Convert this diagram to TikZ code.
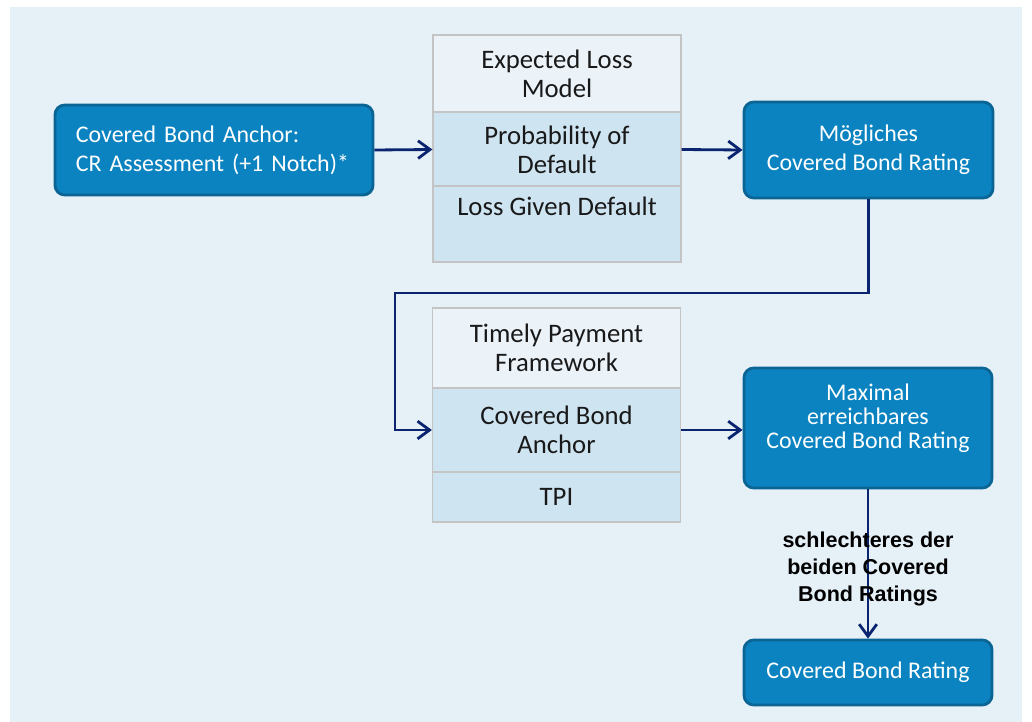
\documentclass[tikz,border=0pt]{standalone}
\usepackage{fontspec}
\setmainfont{Carlito}
\newfontfamily\labelfont{Liberation Sans}
\usetikzlibrary{arrows.meta}
\definecolor{panelbg}{HTML}{E6F0F7}
\definecolor{boxfill}{HTML}{0A83C0}
\definecolor{boxline}{HTML}{0A6494}
\definecolor{cellgray}{HTML}{C4C4C4}
\definecolor{celltop}{HTML}{EBF3F9}
\definecolor{cellblue}{HTML}{CEE4F1}
\definecolor{flowline}{HTML}{0A2470}
\begin{document}
\begin{tikzpicture}[x=0.025cm,y=-0.025cm,
    font=\fontsize{17}{20.6}\selectfont,
    rating/.style={draw=boxline,line width=2pt,fill=boxfill,rounded corners=7pt,text=white,align=center,minimum width=6.2cm,inner sep=0pt},
    cell/.style={draw=cellgray,line width=0.8pt,fill=cellblue,align=center,minimum width=6.2cm,inner sep=0pt,text=black!90,font=\fontsize{19}{20.8}\selectfont},
    headcell/.style={cell,fill=celltop},
    flow/.style={draw=flowline,line width=2pt,-{Straight Barb[length=3mm,width=4.4mm]}}]
    \useasboundingbox (0,0) rectangle (1032,722);
    \fill[panelbg] (10,7) rectangle (1022,722);

    \node[rating,minimum width=7.95cm,minimum height=2.25cm,text width=6.9cm,align=left] (cra) at (214,150) {Covered Bond Anchor:\\CR Assessment (+1 Notch)*};
    \node[headcell,minimum height=1.925cm] (elm) at (557,73.5) {Expected Loss\\Model};
    \node[cell,minimum height=1.85cm] (pd) at (557,149.5) {Probability of\\Default};
    \node[cell,minimum height=1.9cm] (lgd) at (557,224) {Loss Given Default\\[5pt]~};
    \node[rating,minimum width=6.225cm,minimum height=2.4cm] (mcbr) at (868.5,150) {Mögliches\\Covered Bond Rating};

    \node[headcell,minimum height=2cm] (tpf) at (556.5,348) {Timely Payment\\Framework};
    \node[cell,minimum height=2.1cm] (cba) at (556.5,430) {Covered Bond\\Anchor};
    \node[cell,minimum height=1.25cm] (tpi) at (556.5,497) {TPI};
    \node[rating,minimum height=3cm,font=\fontsize{17}{17}\selectfont] (mecbr) at (868,428) {Maximal\\erreichbares\\Covered Bond Rating\\~};
    \node[rating,minimum height=1.625cm] (cbr) at (868,672.5) {Covered Bond Rating};

    \coordinate (bend) at (395,293);
    \draw[flow] (cra.east) -- (pd.west);
    \draw[flow] (pd.east) -- (mcbr.west);
    \draw[flow] (mcbr.south) |- (bend) |- (cba.west);
    \draw[flow] (cba.east) -- (cba.east -| mecbr.west);
    \draw[flow] (mecbr.south) -- node[yshift=-3.6pt,font=\labelfont\bfseries\fontsize{15.3}{19.3}\selectfont,align=center,text=black] {schlechteres der\\beiden Covered\\Bond Ratings} (cbr.north);
\end{tikzpicture}
\end{document}
